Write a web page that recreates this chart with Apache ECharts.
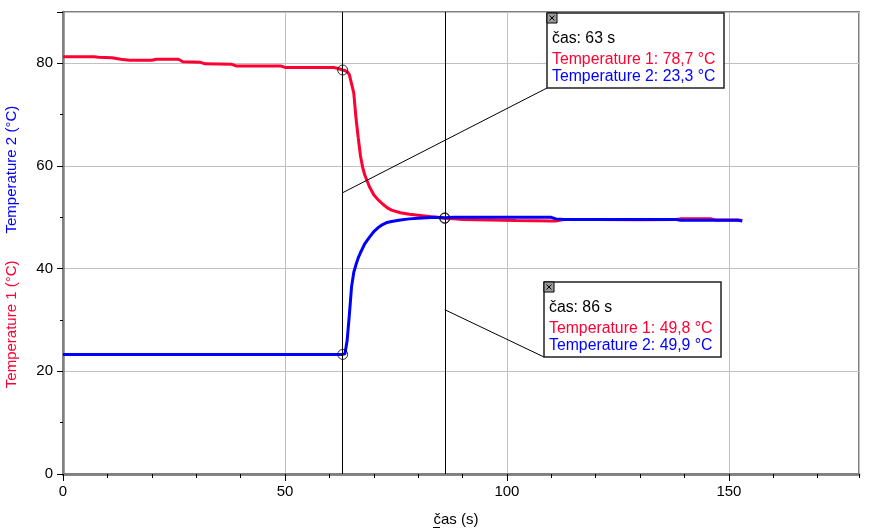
<!DOCTYPE html>
<html>
<head>
<meta charset="utf-8">
<script src="https://cdn.jsdelivr.net/npm/echarts@6/dist/echarts.min.js"></script>
<style>
html,body{margin:0;padding:0;background:#fff;}
#chart{width:869px;height:529px;}
</style>
</head>
<body>
<div id="chart"></div>
<script>
// ---- data ----
const times = [0, 4, 7, 8, 11, 13, 15, 20, 21, 26, 27, 31, 32, 38, 39, 49, 50, 55, 61, 62, 63,
  63.5, 64, 64.5, 65, 65.5, 66, 66.5, 67, 67.5, 68, 69, 70, 71, 72, 73, 74, 76, 78, 80, 82, 84, 86,
  88, 90, 96, 102, 110, 111, 113, 120, 130, 138, 139, 146, 147, 152, 153];
const temp1 = [81.3, 81.3, 81.3, 81.2, 81.1, 80.8, 80.6, 80.6, 80.8, 80.8, 80.3, 80.2, 79.9, 79.8, 79.5, 79.5, 79.2, 79.2, 79.2, 79.0, 78.7,
  78.6, 78.4, 77.8, 76.0, 74.2, 69.3, 65.5, 62.0, 59.7, 58.2, 56.0, 54.4, 53.4, 52.6, 51.9, 51.4, 50.9, 50.6, 50.4, 50.2, 50.0, 49.8,
  49.7, 49.6, 49.5, 49.4, 49.3, 49.3, 49.6, 49.6, 49.55, 49.6, 49.7, 49.7, 49.5, 49.5, 49.4];
const temp2 = [23.3, 23.3, 23.3, 23.3, 23.3, 23.3, 23.3, 23.3, 23.3, 23.3, 23.3, 23.3, 23.3, 23.3, 23.3, 23.3, 23.3, 23.3, 23.3, 23.3, 23.3,
  23.4, 26.0, 31.0, 36.5, 39.3, 40.8, 42.1, 43.1, 44.0, 44.9, 46.1, 47.2, 48.0, 48.6, 49.0, 49.2, 49.5, 49.7, 49.8, 49.9, 50.0, 49.9,
  50.0, 50.0, 50.0, 50.0, 50.0, 49.7, 49.6, 49.6, 49.6, 49.6, 49.45, 49.45, 49.45, 49.45, 49.3];
const cursorTimes = [63, 86];
const seriesNames = ['Temperature 1', 'Temperature 2'];
const xAxisName = 'čas (s)';
const xRange = [0, 179.3];
const yRange = [0, 90];

const RED = '#ff0033';
const BLUE = '#0000ff';
const FONT = '"Liberation Sans", Arial, sans-serif';

const chart = echarts.init(document.getElementById('chart'), null, {renderer: 'canvas'});

const cursorPts = [];
cursorTimes.forEach(t => {
  const i = times.indexOf(t);
  cursorPts.push([t, temp1[i]]);
  cursorPts.push([t, temp2[i]]);
});

chart.setOption({
  animation: false,
  backgroundColor: '#fff',
  grid: {left: 63, right: 10, top: 12, bottom: 55, containLabel: false, outerBoundsMode: 'none',
    show: true, borderColor: '#808080', borderWidth: 2, backgroundColor: 'transparent'},
  xAxis: [
    {
      // minor ticks every 10 s
      type: 'value', min: xRange[0], max: xRange[1], interval: 10, position: 'bottom',
      axisLine: {show: true, lineStyle: {color: '#808080', width: 2.5}},
      axisTick: {show: true, length: 4, lineStyle: {color: '#000', width: 1}},
      axisLabel: {show: false},
      splitLine: {show: false}
    },
    {
      type: 'value', min: xRange[0], max: xRange[1], interval: 50, position: 'bottom',
      name: xAxisName, nameLocation: 'middle', nameGap: 38,
      nameTextStyle: {color: '#000', fontSize: 15, fontFamily: FONT, padding: [0, 10, 0, 0]},
      axisLine: {show: true, lineStyle: {color: '#808080', width: 2.5}},
      axisTick: {show: true, length: 7, lineStyle: {color: '#000', width: 1}},
      axisLabel: {color: '#000', fontSize: 15, fontFamily: FONT, margin: 10, showMaxLabel: false},
      splitLine: {show: true, lineStyle: {color: '#c0c0c0', width: 1}}
    }
  ],
  yAxis: {
    type: 'value', min: yRange[0], max: yRange[1], interval: 20,
    name: '{a|' + seriesNames[0] + ' (°C)}{b|' + seriesNames[1] + ' (°C)}',
    nameLocation: 'middle', nameGap: 44, nameRotate: 90,
    nameTextStyle: {
      fontSize: 15, fontFamily: FONT,
      rich: {
        a: {color: RED, fontSize: 15, fontFamily: FONT, padding: [0, 27, 0, 0]},
        b: {color: BLUE, fontSize: 15, fontFamily: FONT, padding: [0, 8, 0, 0]}
      }
    },
    axisLine: {show: true, lineStyle: {color: '#808080', width: 2.5}},
    axisTick: {show: true, length: 6, lineStyle: {color: '#000', width: 1}},
    minorTick: {show: true, splitNumber: 2, length: 3, lineStyle: {color: '#000', width: 1}},
    axisLabel: {color: '#000', fontSize: 15, fontFamily: FONT, margin: 10, showMaxLabel: false},
    splitLine: {show: true, lineStyle: {color: '#c0c0c0', width: 1}}
  },
  series: [
    {
      name: seriesNames[0], type: 'line', showSymbol: false, symbol: 'none', xAxisIndex: 0,
      data: times.map((t, i) => [t, temp1[i]]),
      lineStyle: {color: RED, width: 3}, itemStyle: {color: RED}, z: 3
    },
    {
      name: seriesNames[1], type: 'line', showSymbol: false, symbol: 'none', xAxisIndex: 0,
      data: times.map((t, i) => [t, temp2[i]]),
      lineStyle: {color: BLUE, width: 3}, itemStyle: {color: BLUE}, z: 4
    },
    {
      type: 'scatter', data: cursorPts, symbol: 'circle', symbolSize: 10, z: 6, xAxisIndex: 0,
      itemStyle: {color: 'rgba(0,0,0,0)', borderColor: '#000', borderWidth: 1},
      silent: true,
      markLine: {
        silent: true, symbol: ['none', 'none'], animation: false,
        label: {show: false},
        lineStyle: {color: '#000', width: 1, type: 'solid'},
        data: cursorTimes.map(t => ({xAxis: t}))
      }
    }
  ]
});

// annotation boxes
function box(bx, by, t, anchorY) {
  const i = times.indexOf(t);
  const anchor = chart.convertToPixel({xAxisIndex: 0, yAxisIndex: 0}, [t, anchorY]);
  const w = 177, h = 75;
  const els = [];
  els.push({type: 'line', shape: {x1: bx, y1: by + h, x2: anchor[0], y2: anchor[1]}, style: {stroke: '#000', lineWidth: 1}, z: 10});
  els.push({type: 'rect', shape: {x: bx, y: by, width: w, height: h}, style: {fill: '#fff', stroke: '#222', lineWidth: 1.5}, z: 11});
  els.push({type: 'rect', shape: {x: bx, y: by, width: 10, height: 10}, style: {fill: '#9a9a9a', stroke: '#000', lineWidth: 1}, z: 12});
  els.push({type: 'line', shape: {x1: bx + 2.5, y1: by + 2.5, x2: bx + 7.5, y2: by + 7.5}, style: {stroke: '#000', lineWidth: 1}, z: 13});
  els.push({type: 'line', shape: {x1: bx + 7.5, y1: by + 2.5, x2: bx + 2.5, y2: by + 7.5}, style: {stroke: '#000', lineWidth: 1}, z: 13});
  const fmt = v => v.toFixed(1).replace('.', ',');
  const lines = [
    {text: 'čas: ' + t + ' s', color: '#000', dy: 26},
    {text: seriesNames[0] + ': ' + fmt(temp1[i]) + ' °C', color: RED, dy: 47},
    {text: seriesNames[1] + ': ' + fmt(temp2[i]) + ' °C', color: BLUE, dy: 64}
  ];
  lines.forEach(l => {
    els.push({type: 'text', x: bx + 5, y: by + l.dy, z: 14,
      style: {text: l.text, fill: l.color, fontSize: 15.8, fontFamily: FONT, verticalAlign: 'middle', align: 'left'}});
  });
  return els;
}

const graphics = [].concat(
  box(547, 13, cursorTimes[0], 54.8),
  box(544, 282, cursorTimes[1], 32.0),
  [{type: 'line', shape: {x1: 433, y1: 527.5, x2: 440, y2: 527.5}, style: {stroke: '#000', lineWidth: 1}, z: 10}]
);
chart.setOption({graphic: graphics});
</script>
</body>
</html>
